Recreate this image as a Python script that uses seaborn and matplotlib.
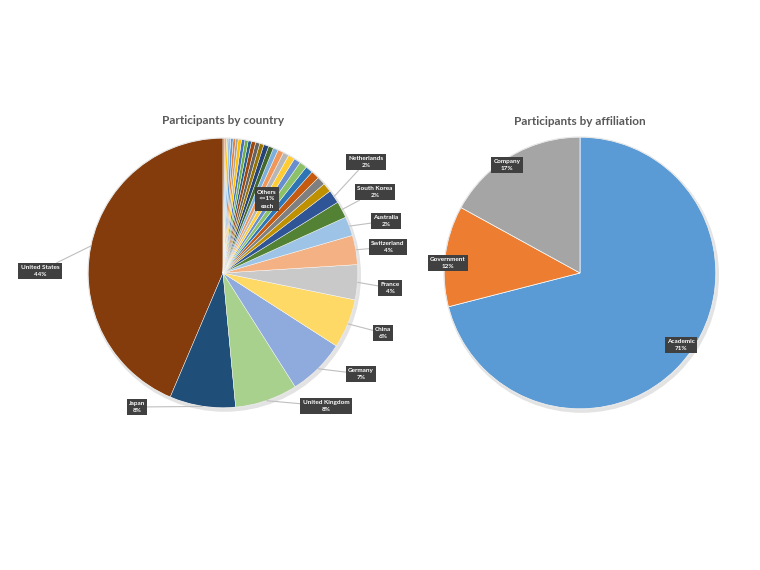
import matplotlib
matplotlib.use("Agg")
import matplotlib.pyplot as plt
import numpy as np
import seaborn as sns

sns.set_theme(style="white")
plt.rcParams['font.family'] = ['Lato', 'DejaVu Sans']

# ---------------- data ----------------
# country shares (%), drawn counterclockwise from 12 o'clock
countries = ["United States", "Japan", "United Kingdom", "Germany", "China",
             "France", "Switzerland", "Australia", "South Korea", "Netherlands"]
country_share = [43.6, 7.9, 7.5, 6.9, 5.9, 4.2, 3.5, 2.3, 2.0, 1.6]
country_text = ["44%", "8%", "8%", "7%", "6%", "4%", "4%", "2%", "2%", "2%"]
# the many small countries (<=1% each)
others_share = [1.1, 1.0, 1.0, 0.9, 0.9, 0.8, 0.8, 0.7, 0.7, 0.6, 0.6, 0.6, 0.5,
                0.5, 0.5, 0.4, 0.4, 0.4, 0.4, 0.3, 0.3, 0.3, 0.3, 0.2, 0.2, 0.2]

affiliations = ["Academic", "Government", "Company"]
affiliation_share = [71, 12, 17]
affiliation_text = ["71%", "12%", "17%"]

# ---------------- styles ----------------
country_colors = ["#843C0C", "#1F4E79", "#A9D18E", "#8FAADC", "#FFD966",
                  "#C9C9C9", "#F4B183", "#9DC3E6", "#548235", "#2F5597"]
others_colors = ["#BF9000", "#7F7F7F", "#C55A11", "#2E75B6",
                 "#8CC168", "#698ED0", "#FFCD33", "#B7B7B7", "#F1975A", "#7CAFDD",
                 "#43682B", "#264478", "#997300", "#636363", "#9E480E", "#255E91",
                 "#70AD47", "#4472C4", "#FFC000", "#A5A5A5", "#ED7D31", "#5B9BD5",
                 "#9DC3E6", "#FFC000", "#9DC3E6", "#ED7D31"]
affiliation_colors = ["#5B9BD5", "#ED7D31", "#A5A5A5"]

W, H = 760, 570
fig = plt.figure(figsize=(7.6, 5.7), dpi=100)
fig.patch.set_facecolor("white")

title_kw = dict(fontsize=8.5, fontweight="bold", color="#595959")
box_kw = dict(boxstyle="square,pad=0.35", fc="#404040", ec="none")
line_kw = dict(arrowstyle="-", color="#BFBFBF", lw=0.8, shrinkA=0, shrinkB=0)


def make_axes(cx, cy, half=200):
    ax = fig.add_axes([(cx - half) / W, (H - cy - half) / H, 2 * half / W, 2 * half / H])
    ax.axis("off")
    return ax


def fix_limits(ax, r, half=200):
    lim = half / r
    ax.set_xlim(-lim, lim)
    ax.set_ylim(-lim, lim)
    ax.set_aspect("equal")


def add_shadow(ax):
    # soft grey shadow under the pie, like the office chart
    ax.add_patch(plt.Circle((0.012, -0.018), 1.01, fc="#E3E3E3", ec="none", zorder=0))
    ax.add_patch(plt.Circle((0, 0), 1.0, fill=False, ec="#E6E6E6", lw=0.8, zorder=3))


def to_data(px, py, cx, cy, r):
    return (px - cx) / r, (cy - py) / r


def edge_point(w):
    a = np.deg2rad((w.theta1 + w.theta2) / 2)
    return np.cos(a), np.sin(a)


# ---------------- left pie ----------------
cx1, cy1, r1 = 223, 273, 135
ax1 = make_axes(cx1, cy1)
wedges1, _ = ax1.pie(country_share + others_share, colors=country_colors + others_colors,
                     startangle=90, counterclock=True, radius=1,
                     wedgeprops=dict(edgecolor="white", linewidth=0.3, zorder=1))
fix_limits(ax1, r1)
add_shadow(ax1)
ax1.text(0, to_data(0, 121, cx1, cy1, r1)[1], "Participants by country",
         ha="center", va="center", **title_kw)

label_px = [(40, 271), (137, 407), (326, 406), (361, 374), (383, 333),
            (390, 288), (388, 247), (386, 221), (375, 192), (366, 162)]
for w, name, txt, (px, py) in zip(wedges1, countries, country_text, label_px):
    xt, yt = to_data(px, py, cx1, cy1, r1)
    ax1.annotate(name + "\n" + txt, xy=edge_point(w), xytext=(xt, yt),
                 ha="center", va="center", fontsize=4.6, fontweight="bold",
                 color="white", linespacing=1.5, bbox=box_kw, arrowprops=line_kw,
                 zorder=5)

xo, yo = to_data(267, 199, cx1, cy1, r1)
ax1.text(xo, yo, "Others\n<=1%\neach", ha="center", va="center", fontsize=4.6,
         fontweight="bold", color="white", linespacing=1.5, bbox=box_kw, zorder=5)

# ---------------- right pie ----------------
cx2, cy2, r2 = 580, 273, 136
ax2 = make_axes(cx2, cy2)
wedges2, _ = ax2.pie(affiliation_share, colors=affiliation_colors, startangle=90,
                     counterclock=False, radius=1,
                     wedgeprops=dict(edgecolor="white", linewidth=0.5, zorder=1))
fix_limits(ax2, r2)
add_shadow(ax2)
ax2.text(0, to_data(0, 121, cx2, cy2, r2)[1], "Participants by affiliation",
         ha="center", va="center", **title_kw)

aff_px = [(681, 345), (448, 263), (507, 165)]
for name, txt, (px, py) in zip(affiliations, affiliation_text, aff_px):
    xt, yt = to_data(px, py, cx2, cy2, r2)
    ax2.text(xt, yt, name + "\n" + txt, ha="center", va="center", fontsize=4.6,
             fontweight="bold", color="white", linespacing=1.5, bbox=box_kw, zorder=5)

fig.savefig("out.png", dpi=100, facecolor="white")
